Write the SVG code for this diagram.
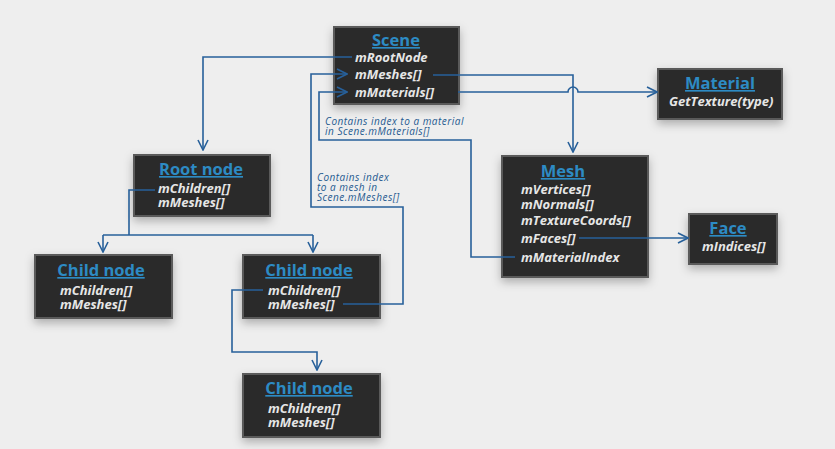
<svg xmlns="http://www.w3.org/2000/svg" width="835" height="449" viewBox="0 0 835 449">
<defs>
<filter id="sh" x="-30%" y="-30%" width="160%" height="170%">
<feDropShadow dx="0" dy="4" stdDeviation="5" flood-color="#000" flood-opacity="0.28"/>
</filter>
<marker id="ar" viewBox="0 0 12 12" refX="11" refY="6" markerWidth="12" markerHeight="12" markerUnits="userSpaceOnUse" orient="auto">
<path d="M1,1 L11,6 L1,11" fill="none" stroke="#27609a" stroke-width="1.6"/>
</marker>
<style>
.box{fill:#2b2b2b;stroke:#5a5a5a;stroke-width:2;filter:url(#sh)}
.t{font-family:"Open Sans","DejaVu Sans",sans-serif;font-weight:bold;font-size:16.5px;fill:#2d8bc4;text-anchor:middle;text-decoration:underline}
.i{font-family:"Open Sans","DejaVu Sans",sans-serif;font-weight:bold;font-style:italic;font-size:13px;fill:#e6e6e6}
.n{font-family:"Open Sans","DejaVu Sans",sans-serif;font-style:italic;font-size:10px;letter-spacing:0.5px;fill:#1f5a90}
.c{fill:none;stroke:#27609a;stroke-width:1.6}
</style>
</defs>
<rect width="835" height="449" fill="#eeeeee"/>

<g id="scene">
<rect class="box" x="334" y="27" width="125" height="77"/>
<text class="t" x="396" y="46">Scene</text>
<text class="i" x="355" y="62">mRootNode</text>
<text class="i" x="355" y="79">mMeshes[]</text>
<text class="i" x="355" y="97">mMaterials[]</text>
</g>

<g id="material">
<rect class="box" x="658" y="69" width="124" height="50"/>
<text class="t" x="720" y="89">Material</text>
<text class="i" x="669" y="106">GetTexture(type)</text>
</g>

<g id="mesh">
<rect class="box" x="502" y="156" width="146" height="121"/>
<text class="t" x="563" y="177">Mesh</text>
<text class="i" x="521" y="194">mVertices[]</text>
<text class="i" x="521" y="209">mNormals[]</text>
<text class="i" x="521" y="225">mTextureCoords[]</text>
<text class="i" x="521" y="243">mFaces[]</text>
<text class="i" x="521" y="262">mMaterialIndex</text>
</g>

<g id="face">
<rect class="box" x="689" y="214" width="88" height="50"/>
<text class="t" x="728" y="234">Face</text>
<text class="i" x="702" y="251">mIndices[]</text>
</g>

<g id="root">
<rect class="box" x="134" y="155" width="136" height="61"/>
<text class="t" x="201" y="175">Root node</text>
<text class="i" x="158" y="193">mChildren[]</text>
<text class="i" x="158" y="207">mMeshes[]</text>
</g>

<g id="child1">
<rect class="box" x="35" y="255" width="137" height="63"/>
<text class="t" x="101" y="276">Child node</text>
<text class="i" x="60" y="295">mChildren[]</text>
<text class="i" x="60" y="309">mMeshes[]</text>
</g>

<g id="child2">
<rect class="box" x="243" y="255" width="137" height="63"/>
<text class="t" x="309" y="276">Child node</text>
<text class="i" x="268" y="295">mChildren[]</text>
<text class="i" x="268" y="309">mMeshes[]</text>
</g>

<g id="child3">
<rect class="box" x="243" y="374" width="137" height="63"/>
<text class="t" x="309" y="394">Child node</text>
<text class="i" x="268" y="413">mChildren[]</text>
<text class="i" x="268" y="427">mMeshes[]</text>
</g>

<g id="connectors">
<path class="c" d="M352,57 H203 V150" marker-end="url(#ar)"/>
<path class="c" d="M343,304 H403 V207 H311 V74 H347" marker-end="url(#ar)"/>
<path class="c" d="M515,257 H471 V140 H319 V92 H347" marker-end="url(#ar)"/>
<path class="c" d="M433,75 H573 V152" marker-end="url(#ar)"/>
<path class="c" d="M458,92 H568 A5,5 0 0 1 578,92 H657" marker-end="url(#ar)"/>
<path class="c" d="M579,238 H688" marker-end="url(#ar)"/>
<path class="c" d="M155,190 H129 V235"/>
<path class="c" d="M103,235 H313"/>
<path class="c" d="M103,235 V252" marker-end="url(#ar)"/>
<path class="c" d="M313,235 V252" marker-end="url(#ar)"/>
<path class="c" d="M263,290 H232 V352 H317 V370" marker-end="url(#ar)"/>
<text class="n" x="325" y="125">Contains index to a material</text>
<text class="n" x="325" y="135">in Scene.mMaterials[]</text>
<text class="n" x="317" y="181">Contains index</text>
<text class="n" x="317" y="191">to a mesh in</text>
<text class="n" x="317" y="201">Scene.mMeshes[]</text>
</g>
</svg>
